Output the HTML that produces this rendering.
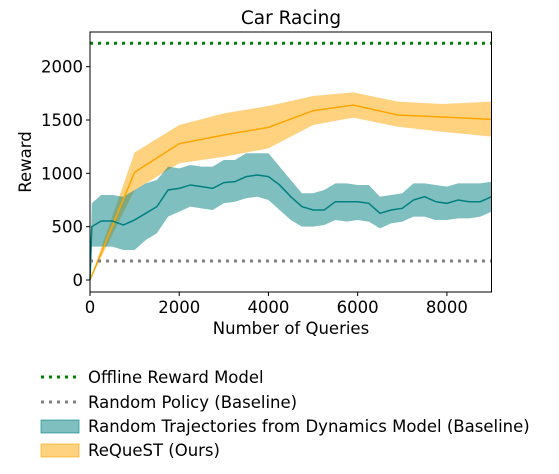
<!DOCTYPE html>
<html><head><meta charset="utf-8"><style>
body{margin:0;background:#fff;}
svg{display:block;font-family:"DejaVu Sans","Liberation Sans",sans-serif;}
</style></head><body>
<svg id="c" width="559" height="474"></svg>
<script>
const ns="http://www.w3.org/2000/svg";
const offlineReward=2219;
const randomPolicy=178;
const orangeQ=[0,1000,2000,3000,4000,5000,5900,6900,7900,9000];
const orangeMean=[0,1010,1278,1359,1431,1587,1640,1547,1528,1506];
const orangeLo=[0,843,1094,1156,1234,1453,1522,1437,1390,1344];
const orangeHi=[0,1195,1453,1562,1631,1725,1759,1672,1650,1672];
const tealQ=[0,40,250,500,750,1000,1250,1500,1750,2000,2250,2500,2750,3000,3250,3500,3750,4000,4250,4500,4750,5000,5250,5500,5750,6000,6250,6500,6750,7000,7250,7500,7750,8000,8250,8500,8750,9000];
const tealMean=[0,500,553,553,516,563,625,688,844,859,891,875,859,913,922,969,984,969,891,781,688,656,656,734,734,734,719,625,656,672,750,781,734,719,750,734,734,781];
const tealHi=[0,719,797,797,781,844,906,938,1063,1047,1078,1063,1063,1125,1125,1188,1188,1188,1063,938,813,813,844,906,906,891,891,781,797,813,906,906,891,875,906,906,906,922];
const tealLo=[0,313,313,313,281,281,375,438,594,641,688,672,656,719,734,766,781,750,656,563,500,500,516,563,547,563,547,484,531,547,594,594,563,563,578,578,594,641];
const xTicks=[0,2000,4000,6000,8000];
const yTicks=[0,500,1000,1500,2000];
const L=90,R=491.5,T=32,B=292;
const X=q=>L+q*(R-L)/9000;
const Y=v=>280-v*0.10667;
const svg=document.getElementById('c');
function el(t,a,p){const e=document.createElementNS(ns,t);for(const k in a)e.setAttribute(k,a[k]);(p||svg).appendChild(e);return e;}
function band(q,lo,hi,fill,name){
  let d="M"+q.map((x,i)=>X(x)+","+Y(hi[i])).join("L");
  for(let i=q.length-1;i>=0;i--)d+="L"+X(q[i])+","+Y(lo[i]);
  const e=el('path',{d:d+"Z",fill:fill,stroke:'none'});
  
  
}
function line(q,m,color,name){
  const e=el('polyline',{points:q.map((x,i)=>X(x)+","+Y(m[i])).join(" "),fill:'none',stroke:color,'stroke-width':1.5});
  
  
}
band(orangeQ,orangeLo,orangeHi,'rgba(255,165,0,0.5)','request-band');
band(tealQ,tealLo,tealHi,'rgba(0,128,128,0.5)','random-trajectories-band');
line(orangeQ,orangeMean,'#ffa500','request-line');
line(tealQ,tealMean,'#008080','random-trajectories-line');
let g=el('line',{x1:L,x2:R,y1:Y(offlineReward),y2:Y(offlineReward),stroke:'#008000','stroke-width':3,'stroke-dasharray':'3,5'});


g=el('line',{x1:L,x2:R,y1:Y(randomPolicy),y2:Y(randomPolicy),stroke:'#808080','stroke-width':3,'stroke-dasharray':'3,5'});


g=el('rect',{x:L,y:T,width:R-L,height:B-T,fill:'none',stroke:'#000','stroke-width':1});


xTicks.forEach(t=>{
  el('line',{x1:X(t),x2:X(t),y1:B,y2:B+4,stroke:'#000'});
  const s=el('text',{x:X(t),y:B+21,'text-anchor':'middle','font-size':16.5});s.textContent=t;
  
  
});
yTicks.forEach(t=>{
  el('line',{x1:L-4,x2:L,y1:Y(t),y2:Y(t),stroke:'#000'});
  const s=el('text',{x:L-7,y:Y(t)+6,'text-anchor':'end','font-size':16.5});s.textContent=t;
  
  
});
</script>
<svg style="position:absolute;left:0;top:0" width="559" height="474">
<g font-family="DejaVu Sans, Liberation Sans, sans-serif" fill="#000">
<text x="291" y="24" text-anchor="middle" font-size="18.5">Car Racing</text>
<text x="291" y="334" text-anchor="middle" font-size="16.5">Number of Queries</text>
<text transform="translate(31,162) rotate(-90)" text-anchor="middle" font-size="16.5">Reward</text>
<g font-size="16.5">
<line x1="41" x2="79" y1="377" y2="377" stroke="#008000" stroke-width="3" stroke-dasharray="3,5"/>
<text x="88" y="383">Offline Reward Model</text>
<line x1="41" x2="79" y1="402" y2="402" stroke="#808080" stroke-width="3" stroke-dasharray="3,5"/>
<text x="88" y="408">Random Policy (Baseline)</text>
<rect x="41" y="420" width="38" height="13" fill="rgba(0,128,128,0.5)" stroke="rgba(0,128,128,0.6)"/>
<text x="88" y="432">Random Trajectories from Dynamics Model (Baseline)</text>
<rect x="41" y="444" width="38" height="13" fill="rgba(255,165,0,0.5)" stroke="rgba(255,165,0,0.6)"/>
<text x="88" y="456">ReQueST (Ours)</text>
</g></g></svg>
</body></html>
